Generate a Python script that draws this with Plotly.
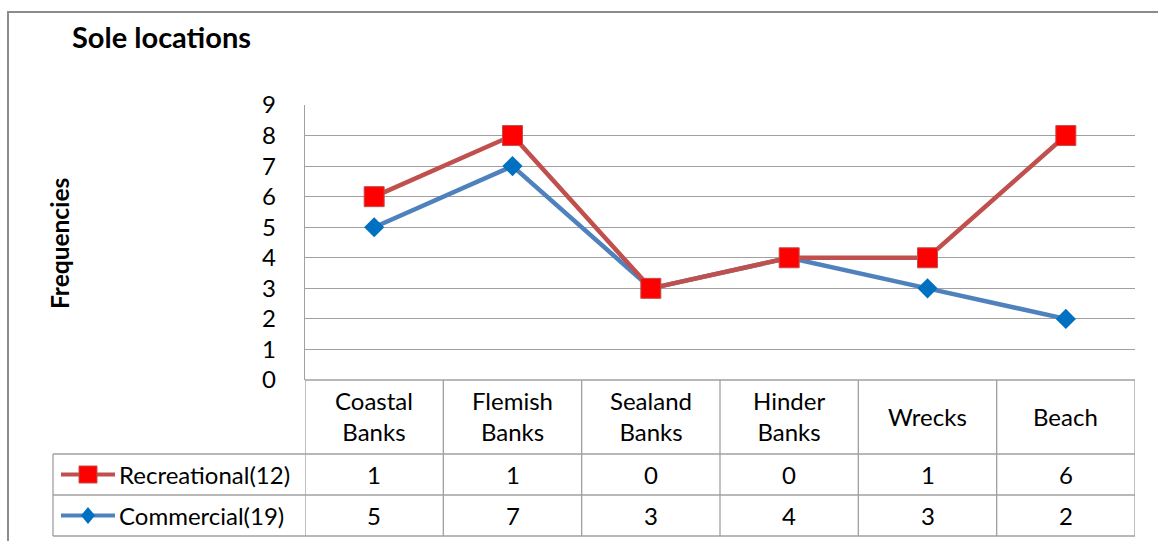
import plotly.graph_objects as go

# ---- data -------------------------------------------------------------
categories = ["Coastal<br>Banks", "Flemish<br>Banks", "Sealand<br>Banks",
              "Hinder<br>Banks", "Wrecks", "Beach"]
recreational = [1, 1, 0, 0, 1, 6]
commercial = [5, 7, 3, 4, 3, 2]
series_names = ["Recreational(12)", "Commercial(19)"]
y_ticks = [0, 1, 2, 3, 4, 5, 6, 7, 8, 9]

# stacked line: recreational sits on top of commercial
stacked_recreational = [c + r for c, r in zip(commercial, recreational)]
x_idx = list(range(len(categories)))

# ---- geometry ---------------------------------------------------------
W, H = 1158, 541
PL, PR, PT, PB = 305, 1135, 105, 380   # plot area in pixels

FONT = "Lato"
TXT_SIZE = 24
GRID = "#A0A0A0"
RED_LINE, RED_MARK = "#C0504D", "#FF0000"
BLUE_LINE, BLUE_MARK = "#4F81BD", "#0070C0"


def px_x(px):
    return (px - PL) / (PR - PL)


def px_y(py):
    return (PB - py) / (PB - PT)


fig = go.Figure()

fig.add_trace(go.Scatter(
    x=x_idx, y=commercial, mode="lines+markers", name=series_names[1],
    line=dict(color=BLUE_LINE, width=4.5),
    marker=dict(symbol="diamond", size=15.5, color=BLUE_MARK,
                line=dict(color=BLUE_MARK, width=0)),
    hoverinfo="skip"))

fig.add_trace(go.Scatter(
    x=x_idx, y=stacked_recreational, mode="lines+markers", name=series_names[0],
    line=dict(color=RED_LINE, width=4.5),
    marker=dict(symbol="square", size=20, color=RED_MARK,
                line=dict(color=RED_LINE, width=1)),
    hoverinfo="skip"))

shapes = []
# outer chart frame
shapes.append(dict(type="rect", xref="paper", yref="paper",
                   x0=px_x(8), y0=px_y(12), x1=px_x(1200), y1=px_y(600),
                   line=dict(color="#8C8C8C", width=2), layer="below"))

# data table grid
row_lines = [454, 495, 536]
for py in row_lines:
    shapes.append(dict(type="line", xref="paper", yref="paper",
                       x0=px_x(53), x1=1, y0=px_y(py), y1=px_y(py),
                       line=dict(color=GRID, width=1.3)))
shapes.append(dict(type="line", xref="paper", yref="paper",
                   x0=0, x1=1, y0=0, y1=0, line=dict(color=GRID, width=1.3)))
shapes.append(dict(type="line", xref="paper", yref="paper",
                   x0=px_x(53), x1=px_x(53), y0=px_y(454), y1=px_y(536),
                   line=dict(color=GRID, width=1.3)))
for k in range(len(categories) + 1):
    shapes.append(dict(type="line", xref="x", yref="paper",
                       x0=k - 0.5, x1=k - 0.5, y0=0, y1=px_y(536),
                       line=dict(color=GRID, width=1.3)))

# legend keys inside the table
row_mid = [(454 + 495) / 2, (495 + 536) / 2]
shapes.append(dict(type="line", xref="paper", yref="paper",
                   x0=px_x(61), x1=px_x(115), y0=px_y(row_mid[0]), y1=px_y(row_mid[0]),
                   line=dict(color=RED_LINE, width=4)))
shapes.append(dict(type="rect", xref="paper", yref="paper",
                   x0=px_x(79), x1=px_x(97), y0=px_y(row_mid[0] - 8.5), y1=px_y(row_mid[0] + 8.5),
                   fillcolor=RED_MARK, line=dict(color=RED_LINE, width=1)))
shapes.append(dict(type="line", xref="paper", yref="paper",
                   x0=px_x(61), x1=px_x(115), y0=px_y(row_mid[1]), y1=px_y(row_mid[1]),
                   line=dict(color=BLUE_LINE, width=4)))
cx, cy, hw, hh = 88, row_mid[1], 7, 8.5
diamond = "M {},{} L {},{} L {},{} L {},{} Z".format(
    px_x(cx), px_y(cy - hh), px_x(cx + hw), px_y(cy),
    px_x(cx), px_y(cy + hh), px_x(cx - hw), px_y(cy))
shapes.append(dict(type="path", xref="paper", yref="paper", path=diamond,
                   fillcolor=BLUE_MARK, line=dict(color=BLUE_MARK, width=0)))

annotations = []
txt = dict(family=FONT, size=TXT_SIZE, color="#000000")
# category header row
for i, cat in enumerate(categories):
    annotations.append(dict(x=i, y=px_y(416), xref="x", yref="paper", text=cat,
                            showarrow=False, font=txt, align="center",
                            xanchor="center", yanchor="middle"))
# values rows
for r, values in enumerate([recreational, commercial]):
    for i, v in enumerate(values):
        annotations.append(dict(x=i, y=px_y(row_mid[r]), xref="x", yref="paper",
                                text=str(v), showarrow=False, font=txt,
                                xanchor="center", yanchor="middle"))
    annotations.append(dict(x=px_x(117), y=px_y(row_mid[r]), xref="paper", yref="paper",
                            text=series_names[r], showarrow=False, font=txt,
                            xanchor="left", yanchor="middle"))

# chart title and axis title
annotations.append(dict(x=px_x(70), y=px_y(37), xref="paper", yref="paper",
                        text="<b>Sole locations</b>", showarrow=False,
                        font=dict(family=FONT, size=29, color="#000000"),
                        xanchor="left", yanchor="middle"))
annotations.append(dict(x=px_x(60), y=px_y(244), xref="paper", yref="paper",
                        text="<b>Frequencies</b>", showarrow=False, textangle=-90,
                        font=dict(family=FONT, size=24.5, color="#000000"),
                        xanchor="center", yanchor="middle"))

fig.update_layout(
    width=W, height=H,
    margin=dict(l=PL, r=W - PR, t=PT, b=H - PB, pad=0),
    paper_bgcolor="white", plot_bgcolor="white",
    showlegend=False,
    shapes=shapes, annotations=annotations,
    xaxis=dict(range=[-0.5, len(categories) - 0.5], showticklabels=False,
               showgrid=False, zeroline=False, showline=False, fixedrange=True),
    yaxis=dict(range=[0, 9], tickvals=y_ticks, ticktext=[str(t) for t in y_ticks],
               showgrid=True, gridcolor=GRID, gridwidth=1.4,
               zeroline=False, showline=True, linecolor=GRID, linewidth=1.4,
               ticks="", ticklabelstandoff=23,
               tickfont=dict(family=FONT, size=TXT_SIZE, color="#000000"),
               fixedrange=True),
)

fig.write_html("out.html")
